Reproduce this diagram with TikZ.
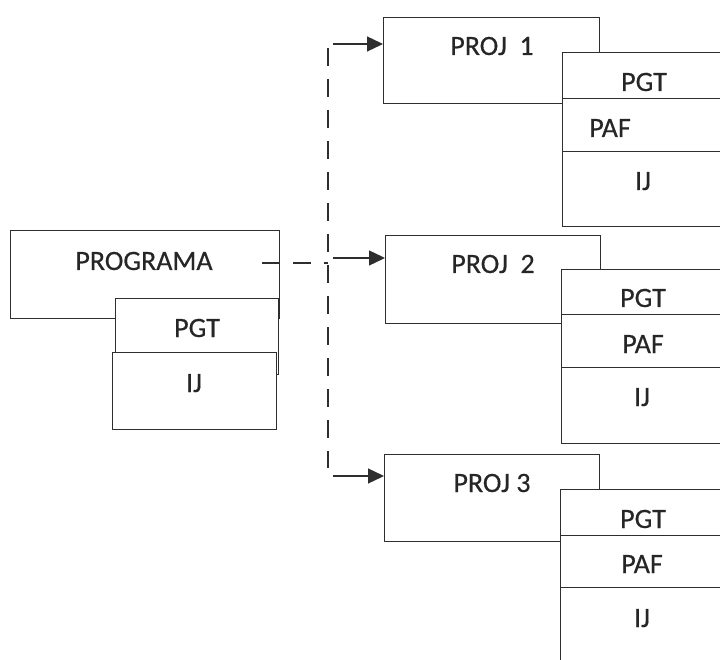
\documentclass[tikz,border=0pt]{standalone}
\usepackage{fontspec}
\setmainfont{Carlito}[FakeBold=0.4]
\usetikzlibrary{arrows.meta}
\definecolor{ink}{HTML}{2E2E2E}
\definecolor{txt}{HTML}{262626}
\begin{document}
\begin{tikzpicture}[x=1pt,y=-1pt,
 box/.style={draw=ink, line width=1.3pt, fill=white, inner sep=0pt, anchor=north west},
 lbl/.style={text=txt, font=\fontsize{28}{32}\selectfont, anchor=base, inner sep=0pt},
 bus/.style={draw=ink, line width=1.3pt, dash pattern=on 18pt off 13pt},
 arr/.style={draw=ink, line width=1.3pt, -{Triangle[length=16pt,width=15pt]}}]
\useasboundingbox (0,0) rectangle (720,660);
\clip (0,0) rectangle (720,660);
\fill[white] (0,0) rectangle (720,660);

% PROGRAMA
\node[box, minimum width=269pt, minimum height=88pt] (prog) at (10,230) {};
\node[lbl] (tprog) at (144,270) {PROGRAMA};
\node[box, minimum width=163pt, minimum height=76pt] (progpgt) at (115,298) {};
\node[lbl] (tprogpgt) at (197,337) {PGT};
\node[box, minimum width=164pt, minimum height=77pt] (progij) at (112,352) {};
\node[lbl] (tprogij) at (194,392) {IJ};

% PROJ 1
\node[box, minimum width=216pt, minimum height=86pt] (p1) at (383,17) {};
\node[lbl] (t1) at (492,55) {PROJ\ \ 1};
\node[box, minimum width=164pt, minimum height=46pt] (p1pgt) at (562,52) {};
\node[box, minimum width=164pt, minimum height=53pt] (p1paf) at (562,98) {};
\node[box, minimum width=164pt, minimum height=75pt] (p1ij) at (562,151) {};
\node[lbl] (t1pgt) at (644,91) {PGT};
\node[lbl] (t1paf) at (610,137) {PAF};
\node[lbl] (t1ij) at (643,190) {IJ};

% PROJ 2
\node[box, minimum width=215pt, minimum height=88pt] (p2) at (385,235) {};
\node[lbl] (t2) at (493,273) {PROJ\ \ 2};
\node[box, minimum width=165pt, minimum height=45pt] (p2pgt) at (561,269) {};
\node[box, minimum width=165pt, minimum height=53pt] (p2paf) at (561,314) {};
\node[box, minimum width=165pt, minimum height=76pt] (p2ij) at (561,367) {};
\node[lbl] (t2pgt) at (643,307) {PGT};
\node[lbl] (t2paf) at (643,353) {PAF};
\node[lbl] (t2ij) at (642,406) {IJ};

% PROJ 3
\node[box, minimum width=215pt, minimum height=87pt] (p3) at (384,454) {};
\node[lbl] (t3) at (492,492) {PROJ 3};
\node[box, minimum width=166pt, minimum height=46pt] (p3pgt) at (560,489) {};
\node[box, minimum width=166pt, minimum height=52pt] (p3paf) at (560,535) {};
\node[box, minimum width=166pt, minimum height=80pt] (p3ij) at (560,587) {};
\node[lbl] (t3pgt) at (643,528) {PGT};
\node[lbl] (t3paf) at (642,573) {PAF};
\node[lbl] (t3ij) at (642,627) {IJ};

% connectors
\coordinate (d0) at (262,263);
\coordinate (d1) at (328,263);
\coordinate (vtop) at (328,48);
\coordinate (vbot) at (328,468);
\coordinate (a1) at (333,44);
\coordinate (a2) at (333,258);
\coordinate (a3) at (333,476);
\draw[bus] (d0) -- (d1);
\draw[bus] (vtop) -- (vbot);
\draw[arr] (a1) -- (a1 -| p1.west);
\draw[arr] (a2) -- (a2 -| p2.west);
\draw[arr] (a3) -- (a3 -| p3.west);
\end{tikzpicture}
\end{document}
